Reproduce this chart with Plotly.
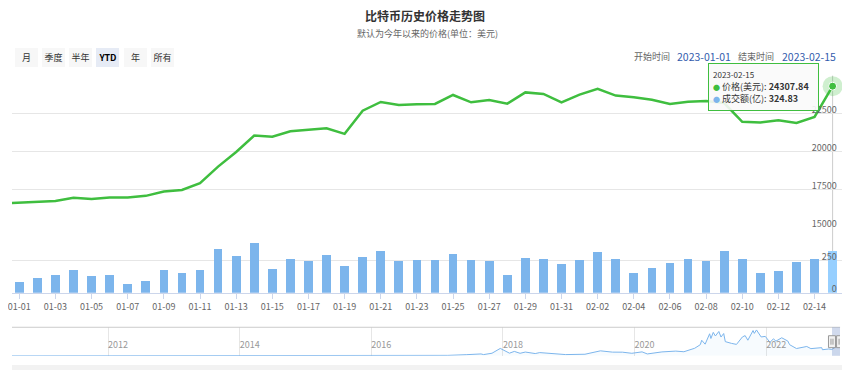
import pandas as pd
import plotly.graph_objects as go

W, H = 850, 371
OFF = 8  # the page body margin shifts the figure by this many pixels


def px(x):
    return (x - OFF) / W


def py(y):
    return 1 - (y - OFF) / H


GREEN = "#3fbe3f"
BLUE = "#7cb5ec"
BLUE_HOVER = "#96cfff"
FONT = "Noto Sans CJK SC, Noto Sans, sans-serif"

# ---------------- data ----------------
dates = pd.date_range("2022-12-31", "2023-02-15", freq="D")
price = [16600,
         16650, 16745, 16780, 16980, 16910, 17010, 17010, 17110, 17400, 17500,
         17940, 19030, 19990, 21070, 20990, 21350, 21440, 21550, 21180, 22700,
         23270, 23080, 23120, 23140, 23730, 23250, 23400, 23160, 23900, 23800,
         23250, 23750, 24140, 23690, 23580, 23420, 23140, 23290, 23340, 23200,
         21970, 21920, 22070, 21900, 22290, 24307.84]
volume = [None,
          83, 117, 135, 180, 127, 141, 70, 88, 180, 151,
          180, 346, 289, 388, 187, 266, 245, 297, 208, 281,
          325, 245, 260, 260, 307, 260, 250, 138, 273, 266,
          227, 260, 320, 266, 151, 192, 234, 266, 250, 325,
          266, 156, 174, 237, 266, 324.83]

price_ticks = [15000, 17500, 20000, 22500, 25000]
volume_ticks = [0, 250, 500]

nav_dates = ["2010-07-17", "2011-06-08", "2011-11-18", "2012-08-16", "2013-01-01",
             "2013-04-09", "2013-07-01", "2013-11-30", "2014-02-01", "2014-06-01",
             "2015-01-14", "2015-07-01", "2015-11-04", "2016-06-17", "2016-12-31",
             "2017-03-01", "2017-06-11", "2017-09-01", "2017-09-15", "2017-11-01",
             "2017-12-17", "2018-02-06", "2018-03-05", "2018-04-06", "2018-05-05",
             "2018-06-29", "2018-07-24", "2018-10-15", "2018-12-15", "2019-04-01",
             "2019-06-26", "2019-09-01", "2019-10-26", "2019-12-17", "2020-02-12",
             "2020-03-12", "2020-06-01", "2020-08-17", "2020-10-01", "2020-11-30",
             "2020-12-31", "2021-01-08", "2021-01-27", "2021-02-21", "2021-02-28",
             "2021-03-13", "2021-03-25", "2021-04-13", "2021-04-25", "2021-05-10",
             "2021-05-19", "2021-06-22", "2021-07-20", "2021-08-22", "2021-09-06",
             "2021-09-21", "2021-10-20", "2021-10-27", "2021-11-08", "2021-12-04",
             "2021-12-27", "2022-01-22", "2022-02-10", "2022-02-24", "2022-03-28",
             "2022-05-01", "2022-05-11", "2022-06-18", "2022-08-14", "2022-09-06",
             "2022-10-01", "2022-11-05", "2022-11-09", "2022-12-14", "2022-12-31",
             "2023-01-21", "2023-02-15"]
nav_price = [0.05, 29, 2, 13, 13,
             230, 90, 1130, 820, 630,
             180, 260, 400, 750, 960,
             1200, 2950, 4900, 3200, 6700,
             19300, 6900, 11500, 6600, 9800,
             5900, 8400, 6500, 3200, 4100,
             13000, 9600, 9500, 6600, 10300,
             4900, 10200, 12300, 10600, 19700,
             29000, 40600, 30400, 57500, 45200,
             61200, 51700, 63500, 49000, 58200,
             37000, 32500, 29800, 49300, 52700,
             40700, 66000, 58500, 67500, 49200,
             50700, 35000, 44400, 38300, 47100,
             38500, 29000, 19000, 24300, 18800,
             19300, 21300, 15900, 17800, 16550,
             22950, 24300]
nav_years = ["2012-01-01", "2014-01-01", "2016-01-01", "2018-01-01", "2020-01-01", "2022-01-01"]

range_buttons = ["月", "季度", "半年", "YTD", "年", "所有"]
selected_button = "YTD"

title = "比特币历史价格走势图"
subtitle = "默认为今年以来的价格(单位：美元)"

# ---------------- layout helpers (pixel geometry of the main time axis) ----------------
X_FIRST, DX = 15.3, 18.16   # pixel of first visible day centre, pixels per day
PLOT_L, PLOT_R = 8, 841.6


def day_at(xpix):
    return dates[1] + pd.Timedelta(days=(xpix - X_FIRST) / DX)


# ---------------- figure ----------------
fig = go.Figure()

bar_colors = [BLUE] * (len(volume) - 1) + [BLUE_HOVER]
fig.add_trace(go.Bar(x=dates, y=volume, marker=dict(color=bar_colors, line=dict(width=0)),
                     width=0.48 * 86400000, xaxis="x", yaxis="y2", hoverinfo="skip"))
fig.add_trace(go.Scatter(x=dates, y=price, mode="lines", line=dict(color=GREEN, width=2.5),
                         xaxis="x", yaxis="y", hoverinfo="skip"))
# hovered point marker + halo
fig.add_trace(go.Scatter(x=[dates[-1]], y=[price[-1]], mode="markers",
                         marker=dict(size=20, color="rgba(63,190,63,0.25)"),
                         xaxis="x", yaxis="y", cliponaxis=False, hoverinfo="skip"))
fig.add_trace(go.Scatter(x=[dates[-1]], y=[price[-1]], mode="markers",
                         marker=dict(size=8, color=GREEN, line=dict(color="white", width=1)),
                         xaxis="x", yaxis="y", cliponaxis=False, hoverinfo="skip"))
# navigator series
fig.add_trace(go.Scatter(x=nav_dates, y=nav_price, mode="lines", line=dict(color=BLUE, width=1),
                         fill="tozeroy", fillcolor="rgba(124,181,236,0.06)",
                         xaxis="x3", yaxis="y3", hoverinfo="skip"))

axis_font = dict(family=FONT, size=9, color="#666666")

fig.update_layout(
    width=W, height=H, autosize=False,
    margin=dict(l=0, r=0, t=0, b=0),
    paper_bgcolor="white", plot_bgcolor="rgba(0,0,0,0)",
    showlegend=False, bargap=0,
    font=dict(family=FONT, color="#333333"),
    title=dict(text=f"<b>{title}</b>", x=px(425), xanchor="center", y=py(17), yanchor="middle",
               font=dict(family=FONT, size=12, color="#333333")),
    xaxis=dict(domain=[px(PLOT_L), px(PLOT_R)], anchor="y2",
               range=[day_at(PLOT_L), day_at(PLOT_R)],
               showgrid=False, zeroline=False, showline=True, linecolor="#ccd6eb", linewidth=1,
               ticks="outside", ticklen=5, tickcolor="#ccd6eb", ticklabeloverflow="allow",
               tickvals=list(dates[1::2]), tickformat="%m-%d", tickfont=axis_font),
    yaxis=dict(domain=[py(229.2), py(76)], anchor="x", range=[price_ticks[0], price_ticks[-1]],
               side="right", tickvals=price_ticks,
               ticktext=[str(v) for v in price_ticks[:-1]] + [""],
               gridcolor="#e6e6e6", gridwidth=1, zeroline=False, showline=False,
               ticks="", ticklabelposition="inside", ticklabelshift=-4, ticklabelstandoff=2,
               ticklabeloverflow="allow", tickfont=axis_font),
    yaxis2=dict(domain=[py(294.3), py(230.3)], anchor="x", range=[volume_ticks[0], volume_ticks[-1]],
                side="right", tickvals=volume_ticks,
                ticktext=[str(v) for v in volume_ticks[:-1]] + [""],
                gridcolor="#e6e6e6", gridwidth=1, zeroline=False, showline=False,
                ticks="", ticklabelposition="inside", ticklabelshift=-4, ticklabelstandoff=2,
                ticklabeloverflow="allow", tickfont=axis_font),
    xaxis3=dict(domain=[px(8), px(840)], anchor="y3", range=[nav_dates[0], nav_dates[-1]],
                tickvals=nav_years, tickformat="%Y", ticklabelposition="inside right",
                ticks="", showgrid=True, gridcolor="#e6e6e6", zeroline=False, showline=False,
                tickfont=dict(family=FONT, size=9, color="#999999")),
    yaxis3=dict(domain=[py(357.7), py(329)], anchor="x3", range=[0, 74500],
                showgrid=False, showticklabels=False, zeroline=False, showline=False, ticks=""),
)

shapes = []
# crosshair
shapes.append(dict(type="line", xref="x", yref="paper", x0=dates[-1], x1=dates[-1],
                   y0=py(294.3), y1=py(76), line=dict(color="#cccccc", width=1), layer="below"))
# navigator outline
shapes.append(dict(type="line", xref="paper", yref="paper", x0=px(8), x1=px(840),
                   y0=py(329), y1=py(329), line=dict(color="#cccccc", width=1)))
# navigator selected range mask
shapes.append(dict(type="rect", xref="x3", yref="paper", x0=dates[1], x1=dates[-1],
                   y0=py(357.7), y1=py(329), fillcolor="rgba(102,133,194,0.3)", line=dict(width=0)))
# navigator handles
for d in (dates[1], dates[-1]):
    shapes.append(dict(type="rect", xref="x3", yref="paper", xsizemode="pixel", xanchor=d,
                       x0=-3.5, x1=3.5, y0=py(349.5), y1=py(337.5),
                       fillcolor="#f2f2f2", line=dict(color="#999999", width=1)))
    for off in (-1, 1):
        shapes.append(dict(type="line", xref="x3", yref="paper", xsizemode="pixel", xanchor=d,
                           x0=off, x1=off, y0=py(346.5), y1=py(340.5),
                           line=dict(color="#999999", width=1)))
# scrollbar track
shapes.append(dict(type="rect", xref="paper", yref="paper", x0=0, x1=1, y0=py(372), y1=py(367),
                   fillcolor="#f2f2f2", line=dict(width=0)))
fig.update_layout(shapes=shapes)

ann = []
ann.append(dict(text=subtitle, xref="paper", yref="paper", x=px(425), y=py(34), xanchor="center",
                yanchor="middle", showarrow=False, font=dict(family=FONT, size=9, color="#666666")))
# range selector buttons
for k, lab in enumerate(range_buttons):
    sel = lab == selected_button
    ann.append(dict(text=f"<b>{lab}</b>" if sel else lab, xref="paper", yref="paper",
                    x=px(22.5 + 27.3 * k), y=py(57.5), xanchor="center", yanchor="middle",
                    width=23, height=19, borderpad=0, borderwidth=0, showarrow=False,
                    bgcolor="#e6ebf5" if sel else "#f7f7f7",
                    font=dict(family=FONT, size=9, color="#000000" if sel else "#333333")))
# date range inputs
inputs = [("开始时间", 671, "#666666"), (f"{dates[1]:%Y-%m-%d}", 732, "#335cad"),
          ("结束时间", 776, "#666666"), (f"{dates[-1]:%Y-%m-%d}", 838, "#335cad")]
for txt, xr, col in inputs:
    ann.append(dict(text=txt, xref="paper", yref="paper", x=px(xr), y=py(57), xanchor="right",
                    yanchor="middle", showarrow=False,
                    font=dict(family=FONT, size=9 if col == "#666666" else 10.5, color=col)))
# tooltip
dot = "font-size:7px"
tip = (f"<span style='font-size:8px'>{dates[-1]:%Y-%m-%d}</span><br>"
       f"<span style='color:{GREEN};{dot}'>●</span> 价格(美元): <b>{price[-1]:.2f}</b><br>"
       f"<span style='color:{BLUE};{dot}'>●</span> 成交额(亿): <b>{volume[-1]:.2f}</b>")
ann.append(dict(text=tip, xref="paper", yref="paper", x=px(707), y=py(63), xanchor="left",
                yanchor="top", align="left", showarrow=False, width=101, height=38, borderpad=4,
                bgcolor="rgba(249,249,249,0.9)", bordercolor=GREEN, borderwidth=1,
                font=dict(family=FONT, size=9, color="#333333")))
fig.update_layout(annotations=ann)

fig.write_html("out.html")
